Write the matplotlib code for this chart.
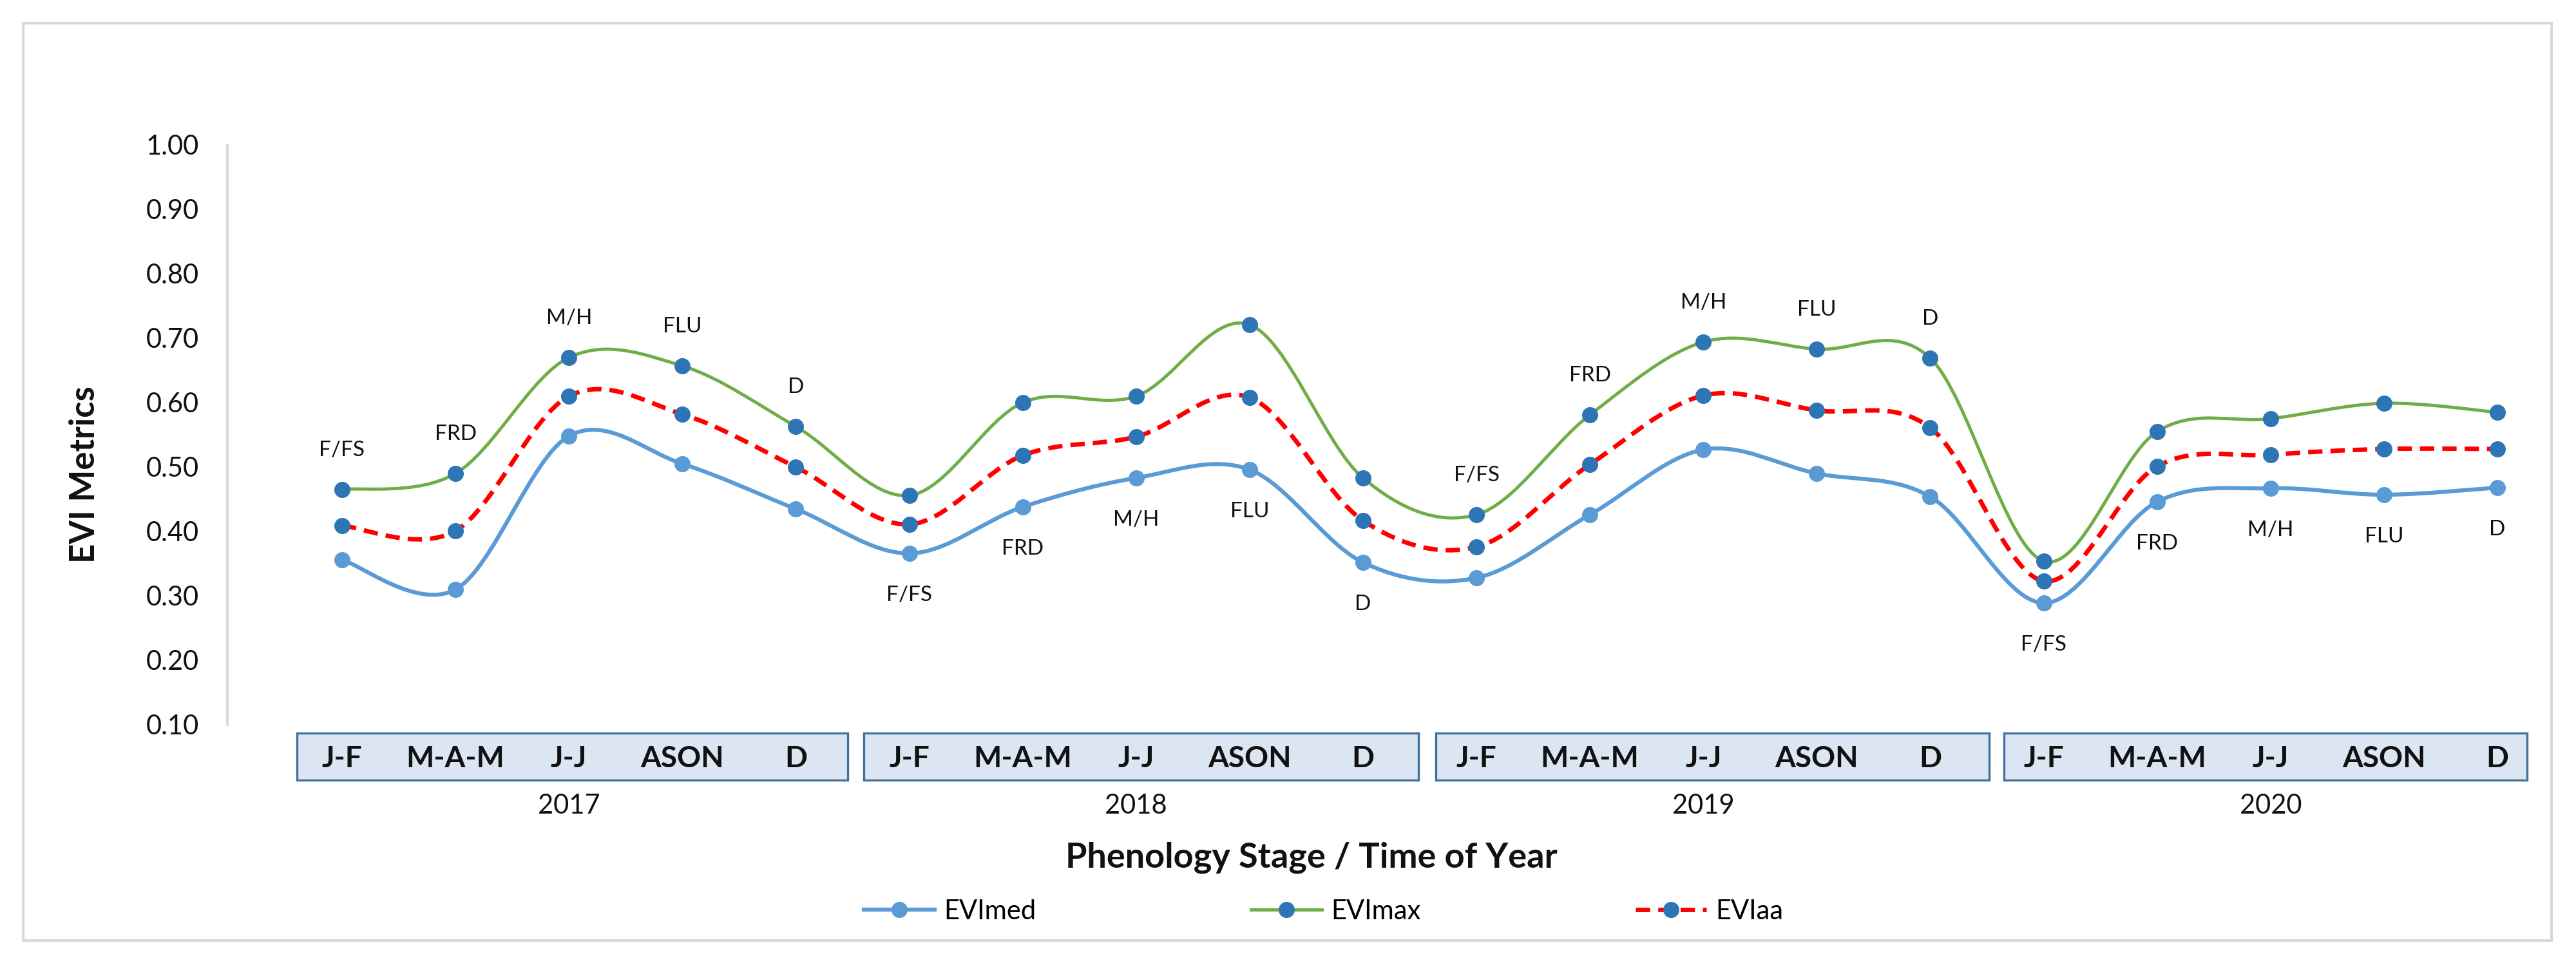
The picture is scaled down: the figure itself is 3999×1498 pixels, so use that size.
import numpy as np
import matplotlib
matplotlib.use("Agg")
import matplotlib.pyplot as plt
from matplotlib.path import Path
from matplotlib.patches import PathPatch, Rectangle
from matplotlib.lines import Line2D
from matplotlib.transforms import blended_transform_factory

plt.rcParams['font.family'] = ['Lato', 'DejaVu Sans']

years = ['2017', '2018', '2019', '2020']
seasons = ['J-F', 'M-A-M', 'J-J', 'ASON', 'D']
stages = ['F/FS', 'FRD', 'M/H', 'FLU', 'D']
# where the stage labels sit for each year: above EVImax or below EVImed
label_side = ['above', 'below', 'above', 'below']

evi_med = [0.356, 0.310, 0.548, 0.505, 0.435,
           0.366, 0.438, 0.483, 0.496, 0.352,
           0.328, 0.426, 0.527, 0.490, 0.454,
           0.289, 0.446, 0.467, 0.457, 0.468]
evi_max = [0.465, 0.490, 0.670, 0.657, 0.563,
           0.456, 0.600, 0.610, 0.721, 0.483,
           0.426, 0.581, 0.694, 0.683, 0.669,
           0.354, 0.555, 0.575, 0.599, 0.585]
evi_aa = [0.409, 0.401, 0.610, 0.582, 0.500,
          0.411, 0.518, 0.547, 0.608, 0.417,
          0.376, 0.504, 0.611, 0.588, 0.561,
          0.323, 0.501, 0.519, 0.528, 0.528]

c_med = '#5b9bd5'
c_max = '#70ad47'
c_aa = '#ff0000'
c_mark = '#2e75b6'


def smooth_path(x, y):
    # excel style smoothed line (catmull-rom as cubic bezier)
    pts = np.column_stack([x, y])
    n = len(pts)
    verts = [pts[0]]
    codes = [Path.MOVETO]
    for i in range(n - 1):
        p0 = pts[i - 1] if i > 0 else pts[i]
        p1 = pts[i]
        p2 = pts[i + 1]
        p3 = pts[i + 2] if i + 2 < n else pts[i + 1]
        verts += [p1 + (p2 - p0) / 6, p2 - (p3 - p1) / 6, p2]
        codes += [Path.CURVE4] * 3
    return Path(verts, codes)


fig = plt.figure(figsize=(39.99, 14.98), dpi=100)
ax = fig.add_axes([0.0883, 0.249, 0.8944, 0.6008])

x = np.arange(len(evi_med))

series = [
    (evi_med, c_med, c_med, 4.5, '-', 'EVImed'),
    (evi_max, c_max, c_mark, 3.6, '-', 'EVImax'),
    (evi_aa, c_aa, c_mark, 5.0, (0, (3.2, 1.8)), 'EVIaa'),
]
handles = []
for vals, lc, mc, lw, ls, name in series:
    patch = PathPatch(smooth_path(x, vals), fill=False, edgecolor=lc, lw=lw,
                      linestyle=ls, capstyle='butt')
    ax.add_patch(patch)
    ax.plot(x, vals, 'o', ls='none', color=mc, markersize=17, mec=mc)
    handles.append(Line2D([], [], color=lc, lw=lw, ls=ls, marker='o',
                          markersize=17, mfc=mc, mec=mc, label=name))

ax.set_xlim(-1.01, 19.30)
ax.set_ylim(0.1, 1.0)
ax.set_yticks(np.arange(0.1, 1.01, 0.1))
ax.set_yticklabels(['%.2f' % v for v in np.arange(0.1, 1.01, 0.1)])
ax.tick_params(axis='y', length=0, pad=32, labelsize=30, labelcolor='#111111')
ax.set_xticks([])
for s in ['top', 'right', 'bottom']:
    ax.spines[s].set_visible(False)
ax.spines['left'].set_color('#d9d9d9')
ax.spines['left'].set_linewidth(2.9)

# stage labels
for k in range(len(years)):
    for j, st in enumerate(stages):
        i = k * 5 + j
        if label_side[k] == 'above':
            ax.annotate(st, (x[i], evi_max[i]), xytext=(0, 44), textcoords='offset points',
                        ha='center', va='center', fontsize=24, color='#111111')
        else:
            ax.annotate(st, (x[i], evi_med[i]), xytext=(0, -47), textcoords='offset points',
                        ha='center', va='center', fontsize=24, color='#111111')

# year boxes with season labels under the plot
tr = blended_transform_factory(ax.transData, fig.transFigure)
box_left = [-0.40, 4.60, 9.64, 14.65]
box_right = [4.46, 9.49, 14.52, 19.26]
for k, yr in enumerate(years):
    ax.add_patch(Rectangle((box_left[k], 0.1916), box_right[k] - box_left[k], 0.0487,
                           transform=tr, facecolor='#dce6f2', edgecolor='#41719c',
                           lw=2.4, clip_on=False))
    for j, s in enumerate(seasons):
        ax.text(x[k * 5 + j], 0.2137, s, transform=tr, ha='center', va='center',
                fontsize=33, fontweight='bold', color='#111111')
    ax.text(x[k * 5 + 2], 0.165, yr, transform=tr, ha='center', va='center',
            fontsize=30, color='#111111')

fig.text(0.509, 0.1115, 'Phenology Stage / Time of Year', ha='center', va='center',
         fontsize=39, fontweight='bold', color='#111111')
fig.text(0.0328, 0.508, 'EVI Metrics', ha='center', va='center', rotation=90,
         fontsize=38, fontweight='bold', color='#111111')

fig.legend(handles=handles, loc='center', bbox_to_anchor=(0.5138, 0.0554), ncol=3,
           frameon=False, fontsize=30, handlelength=2.64, handletextpad=0.34,
           columnspacing=8.0)

# outer chart border
fig.patches.append(Rectangle((0.009, 0.0254), 0.9815, 0.9506, transform=fig.transFigure,
                             fill=False, edgecolor='#d9d9d9', lw=2.9))

fig.savefig('out.png', dpi=100, facecolor='white')
